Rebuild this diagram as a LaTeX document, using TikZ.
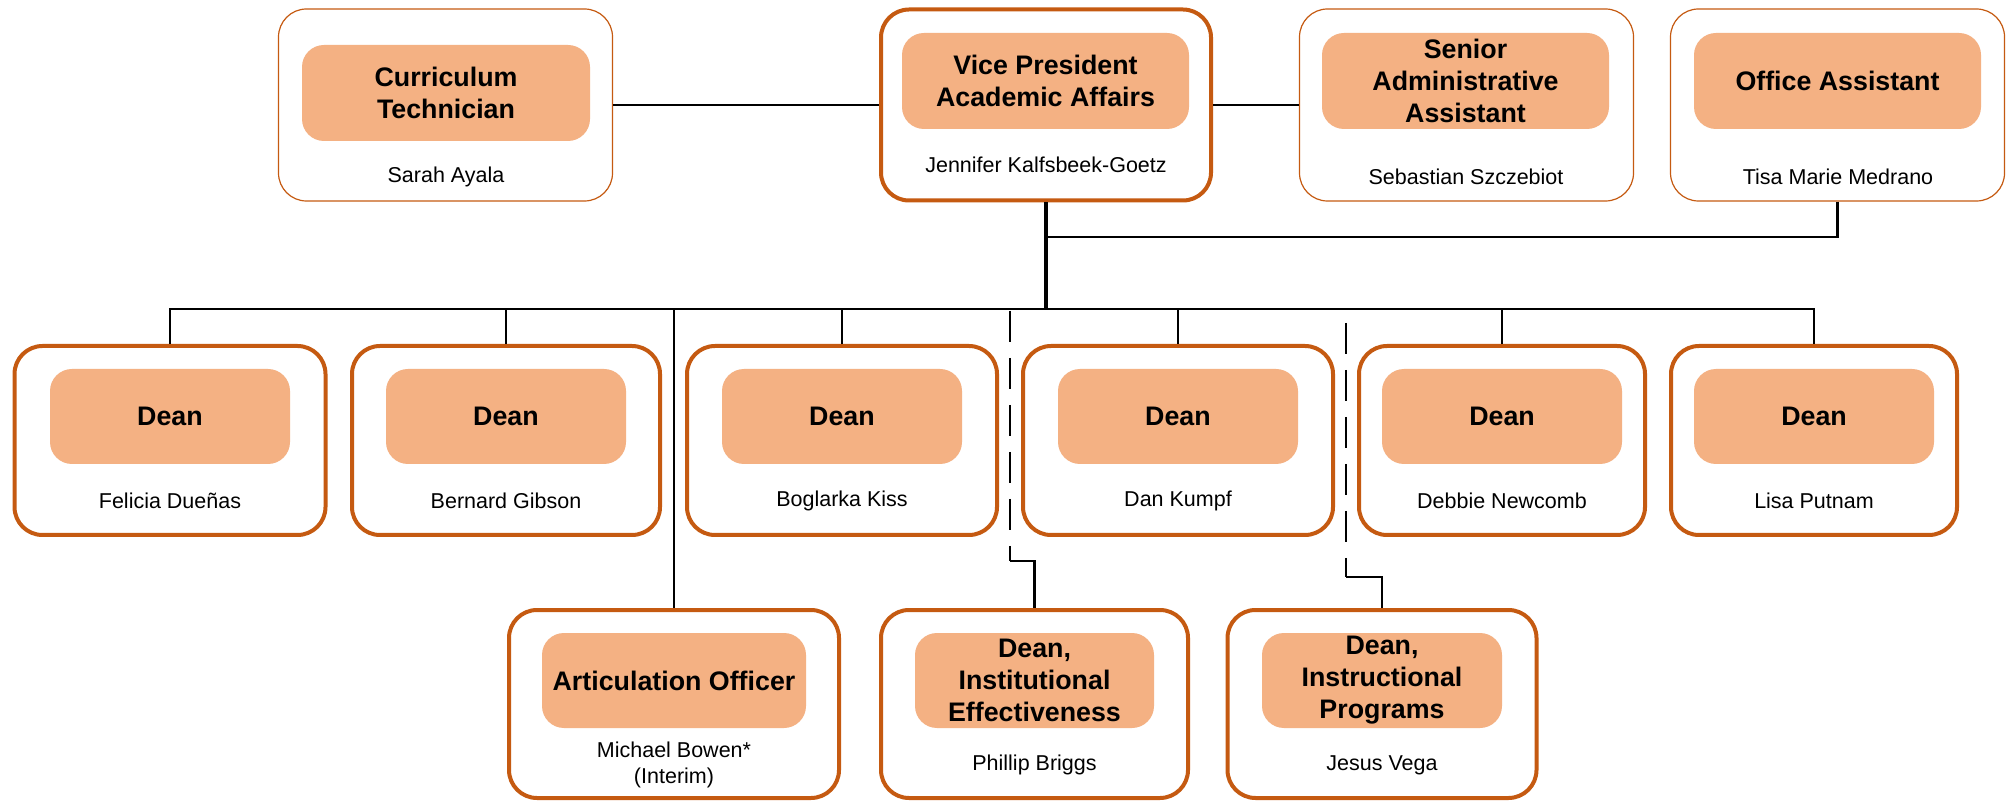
\documentclass[tikz,border=0pt]{standalone}
\usepackage{fontspec}
\setmainfont{Liberation Sans}
\usepackage{tikz}
\definecolor{rust}{HTML}{C55A11}
\definecolor{peach}{HTML}{F4B183}
\tikzstyle{unitbox} = [rectangle, rounded corners=14pt, draw=rust, line width=2pt, fill=white, inner sep=0pt]
\tikzstyle{staffbox} = [unitbox, line width=0.6pt]
\tikzstyle{post} = [rectangle, rounded corners=11pt, fill=peach, inner sep=0pt, align=center, font=\bfseries\fontsize{13.4}{16}\selectfont]
\tikzstyle{person} = [inner sep=0pt, align=center, font=\fontsize{10.75}{13}\selectfont]
\tikzstyle{link} = [line width=1.2pt]
\tikzstyle{trunk} = [line width=1.8pt]
\tikzstyle{dashlink} = [line width=1pt, dash pattern=on 15.5pt off 8pt]

\begin{document}
\begin{tikzpicture}[x=0.5pt, y=-0.5pt]
		\useasboundingbox (0,0) rectangle (2007,801);

		% top row
		\node (ct) [staffbox, minimum width=167pt, minimum height=96pt] at (445.5,105) {};
		\node (ctt) [post, minimum width=144pt, minimum height=48pt] at (446,93) {Curriculum\\Technician};
		\node (ctn) [person] at (446,177) {Sarah Ayala};

		\node (vp) [unitbox, minimum width=165pt, minimum height=95.5pt] at (1046,105) {};
		\node (vpt) [post, minimum width=143.5pt, minimum height=48pt] at (1045.5,81) {Vice President\\Academic Affairs};
		\node (vpn) [person] at (1046,165) {Jennifer Kalfsbeek-Goetz};

		\node (saa) [staffbox, minimum width=167pt, minimum height=96pt] at (1466.5,105) {};
		\node (saat) [post, minimum width=143.5pt, minimum height=48pt] at (1465.5,81) {Senior\\Administrative\\Assistant};
		\node (saan) [person] at (1466,177) {Sebastian Szczebiot};

		\node (oa) [staffbox, minimum width=167pt, minimum height=96pt] at (1837.5,105) {};
		\node (oat) [post, minimum width=143.5pt, minimum height=48pt] at (1837.5,81) {Office Assistant};
		\node (oan) [person] at (1838,177) {Tisa Marie Medrano};

		% deans
		\node (fd) [unitbox, minimum width=155.5pt, minimum height=94.5pt] at (170,440.5) {};
		\node (fdt) [post, minimum width=120pt, minimum height=47.5pt] at (170,416.5) {Dean};
		\node (fdn) [person] at (170,501) {Felicia Dueñas};

		\node (bg) [unitbox, minimum width=154pt, minimum height=94.5pt] at (506,440.5) {};
		\node (bgt) [post, minimum width=120pt, minimum height=47.5pt] at (506,416.5) {Dean};
		\node (bgn) [person] at (506,501) {Bernard Gibson};

		\node (bk) [unitbox, minimum width=155pt, minimum height=94.5pt] at (842,440.5) {};
		\node (bkt) [post, minimum width=120pt, minimum height=47.5pt] at (842,416.5) {Dean};
		\node (bkn) [person] at (842,501) {Boglarka Kiss};

		\node (dk) [unitbox, minimum width=155pt, minimum height=94.5pt] at (1178,440.5) {};
		\node (dkt) [post, minimum width=120pt, minimum height=47.5pt] at (1178,416.5) {Dean};
		\node (dkn) [person] at (1178,501) {Dan Kumpf};

		\node (dn) [unitbox, minimum width=143pt, minimum height=94.5pt] at (1502,440.5) {};
		\node (dnt) [post, minimum width=120pt, minimum height=47.5pt] at (1502,416.5) {Dean};
		\node (dnn) [person] at (1502,501) {Debbie Newcomb};

		\node (lp) [unitbox, minimum width=143pt, minimum height=94.5pt] at (1814,440.5) {};
		\node (lpt) [post, minimum width=120pt, minimum height=47.5pt] at (1814,416.5) {Dean};
		\node (lpn) [person] at (1814,501) {Lisa Putnam};

		% bottom row
		\node (ao) [unitbox, minimum width=165pt, minimum height=94pt] at (674,704) {};
		\node (aot) [post, minimum width=132pt, minimum height=47.5pt] at (674,680.5) {Articulation Officer};
		\node (aon) [person] at (674,765) {Michael Bowen*\\(Interim)};

		\node (ie) [unitbox, minimum width=153.5pt, minimum height=94pt] at (1034.5,704) {};
		\node (iet) [post, minimum width=119.5pt, minimum height=47.5pt] at (1034.5,680.5) {Dean,\\Institutional\\Effectiveness};
		\node (ien) [person] at (1034.5,765) {Phillip Briggs};

		\node (ip) [unitbox, minimum width=154.5pt, minimum height=94pt] at (1382,704) {};
		\node (ipt) [post, minimum width=120pt, minimum height=47.5pt] at (1382,680.5) {Dean,\\Instructional\\Programs};
		\node (ipn) [person] at (1382,765) {Jesus Vega};

		\coordinate (bus) at (1046,309);
		\coordinate (oajoin) at (1046,237);
		\coordinate (ietop) at (1010,311);
		\coordinate (iebend) at (1010,561);
		\coordinate (iptop) at (1346,323);
		\coordinate (ipbend) at (1346,577);

		\draw [link] (ct) -- (vp);
		\draw [link] (vp) -- (saa);
		\draw [link] (oa.south) |- (oajoin);
		\draw [trunk] (vp.south) -- (bus);
		\draw [link] (bus) -| (fd.north);
		\draw [link] (bus) -| (bg.north);
		\draw [link] (bus) -| (bk.north);
		\draw [link] (bus) -| (dk.north);
		\draw [link] (bus) -| (dn.north);
		\draw [link] (bus) -| (lp.north);
		\draw [link] (bus) -| (ao.north);
		\draw [dashlink] (ietop) -- (iebend);
		\draw [link] (iebend) -| (ie.north);
		\draw [dashlink] (iptop) -- (ipbend);
		\draw [link] (ipbend) -| (ip.north);

		\end{tikzpicture}
\end{document}
